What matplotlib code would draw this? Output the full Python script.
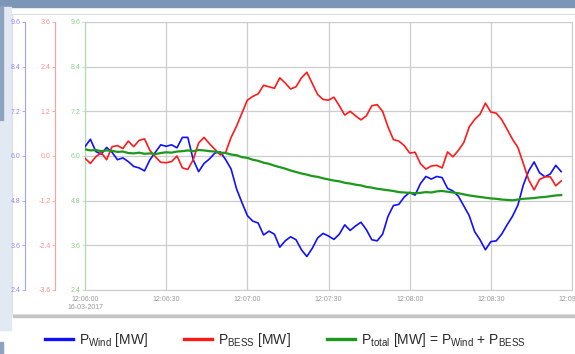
import matplotlib
matplotlib.use("Agg")
import matplotlib.pyplot as plt
import matplotlib.dates as mdates
from matplotlib.patches import Rectangle
from matplotlib.ticker import FuncFormatter
import pandas as pd

plt.rcParams["font.family"] = ["Liberation Sans", "DejaVu Sans"]
plt.rcParams["mathtext.fontset"] = "custom"
plt.rcParams["mathtext.rm"] = "Liberation Sans"

# samples every 2 s from 12:06:00, 16-03-2017
START = "2017-03-16 12:06:00"

# wind park output [MW] (blue axis)
p_wind = [6.25, 6.45, 6.12, 6.05, 6.23, 6.1, 5.9, 5.95, 5.85, 5.72,
          5.68, 5.6, 5.9, 6.1, 6.3, 6.26, 6.3, 6.22, 6.5, 6.5,
          5.9, 5.58, 5.8, 5.92, 6.08, 6.11, 5.9, 5.65, 5.12, 4.75,
          4.4, 4.25, 4.2, 3.88, 3.98, 3.9, 3.55, 3.72, 3.83, 3.75,
          3.48, 3.3, 3.52, 3.8, 3.92, 3.85, 3.76, 3.9, 4.15, 4.0,
          4.12, 4.22, 4.02, 3.75, 3.72, 3.9, 4.38, 4.67, 4.7, 4.9,
          5.02, 4.95, 5.26, 5.45, 5.38, 5.45, 5.42, 5.13, 5.06, 4.92,
          4.66, 4.4, 3.97, 3.75, 3.48, 3.7, 3.72, 3.9, 4.15, 4.38,
          4.68, 5.22, 5.6, 5.84, 5.55, 5.44, 5.52, 5.75, 5.58]

# battery output [MW] (red axis)
p_bess = [-0.06, -0.2, -0.02, 0.09, -0.1, 0.25, 0.28, 0.2, 0.4, 0.25,
          0.42, 0.46, 0.15, -0.02, -0.17, -0.18, -0.15, 0.0, -0.32, -0.36,
          -0.1, 0.35, 0.5, 0.33, 0.18, 0.03, 0.1, 0.5, 0.8, 1.15,
          1.5, 1.6, 1.67, 1.9, 1.86, 1.82, 2.1, 1.96, 1.8, 1.86,
          2.1, 2.25, 1.95, 1.65, 1.52, 1.5, 1.58, 1.35, 1.1, 1.2,
          1.08, 0.97, 1.08, 1.35, 1.38, 1.2, 0.78, 0.44, 0.4, 0.28,
          0.08, 0.1, -0.21, -0.35, -0.27, -0.25, -0.32, 0.11, -0.02, 0.15,
          0.36, 0.78, 0.98, 1.12, 1.42, 1.18, 1.15, 0.98, 0.72, 0.45,
          0.23, -0.2, -0.64, -0.91, -0.63, -0.56, -0.56, -0.8, -0.67]

# total output [MW] (green axis)
p_total = [6.18, 6.15, 6.16, 6.13, 6.15, 6.14, 6.11, 6.12, 6.08, 6.07,
           6.09, 6.06, 6.07, 6.05, 6.08, 6.1, 6.09, 6.12, 6.13, 6.15,
           6.13, 6.16, 6.15, 6.13, 6.12, 6.09, 6.08, 6.04, 6.02, 5.97,
           5.95, 5.9, 5.87, 5.82, 5.79, 5.74, 5.7, 5.66, 5.61, 5.57,
           5.53, 5.5, 5.46, 5.44, 5.4, 5.37, 5.34, 5.32, 5.28, 5.26,
           5.23, 5.21, 5.17, 5.15, 5.12, 5.1, 5.08, 5.06, 5.03, 5.02,
           5.01, 5.0, 5.01, 5.03, 5.02, 5.05, 5.06, 5.04, 5.02, 5.0,
           4.97, 4.94, 4.92, 4.9, 4.88, 4.86, 4.85, 4.83, 4.82, 4.81,
           4.83, 4.85, 4.86, 4.87, 4.89, 4.9, 4.92, 4.94, 4.95]

ticks_mw = [2.4, 3.6, 4.8, 6.0, 7.2, 8.4, 9.6]
ticks_bess = [-3.6, -2.4, -1.2, 0.0, 1.2, 2.4, 3.6]

labels = [r"$\mathregular{P_{Wind}}$ [MW]",
          r"$\mathregular{P_{BESS}}$ [MW]",
          r"$\mathregular{P_{total}}$ [MW] = $\mathregular{P_{Wind}}$ + $\mathregular{P_{BESS}}$"]

times = pd.date_range(START, periods=len(p_wind), freq="2s")

W, H = 575, 354
fig = plt.figure(figsize=(W / 100, H / 100), dpi=100)
fig.patch.set_facecolor("white")

# window decorations around the chart panel
fig.add_artist(Rectangle((0, 1 - 7 / H), 1, 7 / H, transform=fig.transFigure, color="#7d95b6", zorder=0))
fig.add_artist(Rectangle((0, 1 - 330 / H), 11 / W, 323 / H, transform=fig.transFigure, color="#e2e9f2", zorder=0))
fig.add_artist(Rectangle((0, 1 - 120 / H), 3 / W, 113 / H, transform=fig.transFigure, color="#8ea3c0", zorder=0))
fig.add_artist(Rectangle((0, 0), 3 / W, 12 / H, transform=fig.transFigure, color="#8ea3c0", zorder=0))
fig.add_artist(Rectangle((13 / W, 1 - 317 / H), 1, 302 / H, transform=fig.transFigure, color="#c4c4c4", zorder=0))
fig.add_artist(Rectangle((12 / W, 1 - 314 / H), 1, 300 / H, transform=fig.transFigure,
                         facecolor="white", edgecolor="#dedede", lw=0.8, zorder=0))

x0, x1, y0, y1 = 85, 572, 22, 290
ax = fig.add_axes([x0 / W, 1 - y1 / H, (x1 - x0) / W, (y1 - y0) / H])
ax.set_facecolor("white")
ax.set_ylim(2.4, 9.6)
ax.set_yticks(ticks_mw)
ax.yaxis.set_major_formatter(FuncFormatter(lambda v, p: f"{v:.1f}"))
ax.set_xlim(pd.Timestamp("2017-03-16 12:06:00"), pd.Timestamp("2017-03-16 12:09:00"))
ax.xaxis.set_major_locator(mdates.SecondLocator(bysecond=[0, 30]))


def time_label(v, pos):
    d = mdates.num2date(v)
    s = d.strftime("%H:%M:%S")
    if pos == 0:
        s += "\n" + d.strftime("%d-%m-%Y")
    return s


ax.xaxis.set_major_formatter(FuncFormatter(time_label))
ax.grid(True, color="#cdcdcd", lw=0.9)
for side in ["top", "right", "bottom"]:
    ax.spines[side].set_color("#cdcdcd")
ax.spines["left"].set_color("#a6e3a6")
ax.tick_params(axis="x", length=0, pad=4, labelsize=5, labelcolor="#9a9a9a")
ax.tick_params(axis="y", length=2, width=0.6, pad=1, labelsize=5, color="#a6e3a6", labelcolor="#8ccc8c")

axis_cols = [("#a0a0ff", "#8a8aff"), ("#ffa0a0", "#ff8c8c")]

ax_w = ax.twinx()
ax_b = ax.twinx()
for a, lim, ticks, offset, (spine_c, lab_c) in [
        (ax_w, (2.4, 9.6), ticks_mw, -60 / (x1 - x0), axis_cols[0]),
        (ax_b, (-3.6, 3.6), ticks_bess, -30 / (x1 - x0), axis_cols[1])]:
    a.set_ylim(*lim)
    a.set_yticks(ticks)
    a.yaxis.set_major_formatter(FuncFormatter(lambda v, p: f"{v:.1f}"))
    a.yaxis.tick_left()
    for side in ["top", "right", "bottom"]:
        a.spines[side].set_visible(False)
    a.spines["left"].set_position(("axes", offset))
    a.spines["left"].set_color(spine_c)
    a.tick_params(axis="y", length=2, width=0.6, pad=1, labelsize=5, color=spine_c, labelcolor=lab_c)

ax_t = ax.twinx()
ax_t.set_ylim(2.4, 9.6)
ax_t.yaxis.set_visible(False)
for side in ax_t.spines:
    ax_t.spines[side].set_visible(False)

l_b, = ax_b.plot(times, p_bess, color="#ff1a1a", lw=1.2)
l_w, = ax_w.plot(times, p_wind, color="#1010ff", lw=1.2)
l_t, = ax_t.plot(times, p_total, color="#1c991c", lw=1.6)

leg = fig.legend([l_w, l_b, l_t], labels, loc="center left", bbox_to_anchor=(45 / W, 1 - 340 / H),
                 ncol=3, frameon=False, fontsize=10, handlelength=2.0, handletextpad=0.45,
                 columnspacing=2.6, borderaxespad=0, borderpad=0)
for h in leg.legend_handles:
    h.set_linewidth(2.4)
for t in leg.get_texts():
    t.set_color("#2a2a2a")

fig.savefig("out.png", dpi=100)
